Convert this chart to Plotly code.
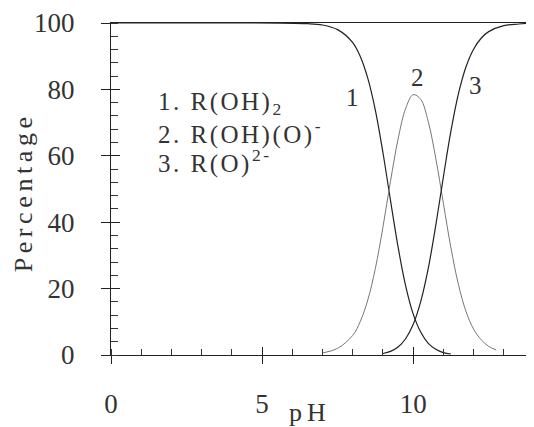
import plotly.graph_objects as go

# pH values and percentage of each species
ph1 = [0, 6.5, 7, 7.5, 8, 8.25, 8.5, 8.75, 9, 9.25, 9.5, 9.75, 10, 10.25, 10.5, 10.75, 11, 11.25]
pct1 = [100, 99.8, 99.4, 98.0, 94.1, 89.9, 83.3, 73.7, 61.0, 46.6, 32.6, 20.9, 12.4, 6.9, 3.5, 1.7, 0.7, 0.3]

ph2 = [7, 7.5, 8, 8.25, 8.5, 8.75, 9, 9.25, 9.5, 9.75, 10, 10.25, 10.5, 10.75, 11, 11.25, 11.5, 11.75, 12, 12.25, 12.5, 12.75]
pct2 = [0.6, 2.0, 5.9, 10.1, 16.6, 26.1, 38.5, 52.3, 65.0, 74.2, 78.4, 77.0, 70.3, 59.2, 45.7, 32.3, 21.2, 13.1, 7.8, 4.6, 2.6, 1.5]

ph3 = [9, 9.25, 9.5, 9.75, 10, 10.25, 10.5, 10.75, 11, 11.25, 11.5, 11.75, 12, 12.25, 12.5, 13, 13.5, 14]
pct3 = [0.45, 1.1, 2.4, 4.9, 9.2, 16.1, 26.1, 39.1, 53.6, 67.4, 78.7, 86.8, 92.1, 95.4, 97.4, 99.2, 99.7, 100]

x_ticks = [0, 5, 10]
y_ticks = [0, 20, 40, 60, 80, 100]
legend_lines = ["1. R(OH)<sub>2</sub>", "2. R(OH)(O)<sup>-</sup>", "3. R(O)<sup>2-</sup>"]
curve_labels = ["1", "2", "3"]

FONT = "Liberation Serif"
INK = "#333333"


def spaced(txt, px):
    return '<span style="letter-spacing:%spx">%s</span>' % (px, txt)


fig = go.Figure()
fig.add_trace(go.Scatter(x=ph1, y=pct1, mode="lines", line=dict(color="#222", width=1.2, shape="spline"), showlegend=False))
fig.add_trace(go.Scatter(x=ph2, y=pct2, mode="lines", line=dict(color="#777", width=1.0, shape="spline"), showlegend=False))
fig.add_trace(go.Scatter(x=ph3, y=pct3, mode="lines", line=dict(color="#222", width=1.2, shape="spline"), showlegend=False))
# invisible trace to activate overlay axes for inner tick marks
fig.add_trace(go.Scatter(x=[0], y=[0], xaxis="x2", yaxis="y2", mode="markers", marker=dict(opacity=0),
                         showlegend=False, hoverinfo="skip"))

# the page body adds an 8px offset, so the figure is sized to fit the 534x427 window
fig.update_layout(
    width=526, height=419,
    margin=dict(l=103, r=0, t=15, b=72, autoexpand=False),
    paper_bgcolor="white", plot_bgcolor="white",
    font=dict(family=FONT, color=INK),
    xaxis=dict(range=[0, 14], tickvals=x_ticks, ticktext=[str(v) for v in x_ticks],
               ticks="outside", ticklen=8, tickcolor="#222", tickwidth=1,
               showline=True, linecolor="#222", linewidth=1, mirror=True,
               showgrid=False, zeroline=False, automargin=False, ticklabeloverflow="allow",
               tickfont=dict(size=27, family=FONT, color=INK),
               ticklabelstandoff=17,
               minor=dict(dtick=1, tick0=0, ticks="inside", ticklen=6, tickcolor="#333")),
    yaxis=dict(range=[0, 100], tickvals=y_ticks, ticktext=[str(v) for v in y_ticks],
               ticks="outside", ticklen=9, tickcolor="#222", tickwidth=1,
               showline=True, linecolor="#222", linewidth=1,
               showgrid=False, zeroline=False, automargin=False, ticklabeloverflow="allow",
               tickfont=dict(size=27, family=FONT, color=INK),
               ticklabelstandoff=21,
               minor=dict(dtick=4, tick0=0, ticks="inside", ticklen=7, tickcolor="#333")),
    xaxis2=dict(range=[0, 14], overlaying="x", tickvals=x_ticks, ticks="inside", ticklen=8,
                tickcolor="#222", showticklabels=False, showgrid=False, zeroline=False, showline=False,
                automargin=False),
    yaxis2=dict(range=[0, 100], overlaying="y", tickvals=y_ticks, ticks="inside", ticklen=9,
                tickcolor="#222", showticklabels=False, showgrid=False, zeroline=False, showline=False,
                automargin=False),
)

# axis titles
fig.add_annotation(x=6.6, y=-0.174, xref="x", yref="paper", yanchor="middle", text=spaced("pH", 5),
                   showarrow=False, font=dict(size=26, family=FONT, color=INK))
fig.add_annotation(x=-0.208, y=0.49, xref="paper", yref="paper", xanchor="center", yanchor="middle",
                   text=spaced("Percentage", 4.6), showarrow=False, textangle=-90,
                   font=dict(size=26, family=FONT, color=INK))

# species legend as text
legend_y = [75.9, 66.9, 58.4]
for txt, yy in zip(legend_lines, legend_y):
    fig.add_annotation(x=1.5, y=yy, xref="x", yref="y", xanchor="left", yanchor="middle", text=spaced(txt, 2.5),
                       showarrow=False, font=dict(size=25, family=FONT, color=INK))

# curve numbers
label_pos = [(7.99, 77.7), (10.15, 83.7), (12.05, 81.3)]
for txt, (xx, yy) in zip(curve_labels, label_pos):
    fig.add_annotation(x=xx, y=yy, xref="x", yref="y", text=txt, showarrow=False,
                       font=dict(size=25, family=FONT, color=INK))

fig.write_html("out.html")
